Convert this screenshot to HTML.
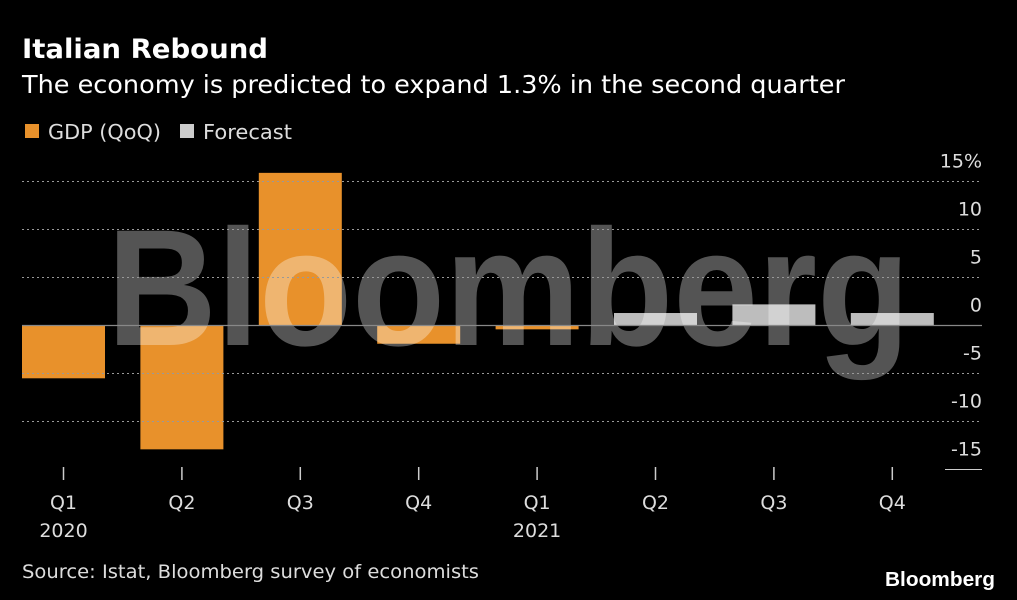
<!DOCTYPE html>
<html><head><meta charset="utf-8"><style>
html,body{margin:0;padding:0;background:#000;}
svg{display:block;font-family:"DejaVu Sans","Liberation Sans",sans-serif;}
</style></head><body>
<svg width="1017" height="600" viewBox="0 0 1017 600">
<rect width="1017" height="600" fill="#000"/>
<text x="22" y="58" fill="#fff" font-weight="bold" font-size="27" textLength="246" lengthAdjust="spacingAndGlyphs">Italian Rebound</text>
<text x="22" y="93" fill="#fff" font-size="25" textLength="823" lengthAdjust="spacingAndGlyphs">The economy is predicted to expand 1.3% in the second quarter</text>
<g>
<rect x="25" y="124" width="14" height="14" fill="#e8912b"/>
<text x="48" y="139" fill="#ddd" font-size="20" textLength="113" lengthAdjust="spacingAndGlyphs">GDP (QoQ)</text>
<rect x="180" y="124" width="14" height="14" fill="#ccc"/>
<text x="203" y="139" fill="#ddd" font-size="20" textLength="89" lengthAdjust="spacingAndGlyphs">Forecast</text>
</g>
<g id="bars"></g>
<text x="107" y="345" fill="rgba(255,255,255,0.33)" font-family="Liberation Sans, sans-serif" font-weight="bold" font-size="166" textLength="803" lengthAdjust="spacingAndGlyphs">Bloomberg</text>
<g id="grid"></g>
<g id="xaxis"></g>
<text x="22" y="578" fill="#ddd" font-size="19" textLength="457" lengthAdjust="spacingAndGlyphs">Source: Istat, Bloomberg survey of economists</text>
<text x="995" y="586" fill="#fff" text-anchor="end" font-family="Liberation Sans, sans-serif" font-weight="bold" font-size="20" textLength="110" lengthAdjust="spacingAndGlyphs">Bloomberg</text>
</svg>
<script>
const categories=["Q1","Q2","Q3","Q4","Q1","Q2","Q3","Q4"];
const yearLabels=["2020","","","","2021","","",""];
const gdpValues=[-5.5,-12.9,15.9,-1.9,-0.4,null,null,null];
const forecastValues=[null,null,null,null,null,1.3,2.2,1.3];
const yTicks=[15,10,5,0,-5,-10,-15];
const yTickLabels=["15%","10","5","0","-5","-10","-15"];
const NS="http://www.w3.org/2000/svg";
const x0=22,step=118.4,bw=83;
function y(v){return 325.5-v*9.6;}
function xc(i){return x0+bw/2+i*step;}
function mk(tag,attrs,parent){const e=document.createElementNS(NS,tag);for(const k in attrs)e.setAttribute(k,attrs[k]);parent.appendChild(e);return e;}
const grid=document.getElementById('grid');
yTicks.forEach((t,i)=>{
  if(t===0){const l=mk('line',{x1:22,x2:982,y1:y(t),y2:y(t),stroke:'#888','stroke-width':1.2},grid);
    }
  else if(t===-15){const l=mk('line',{x1:945,x2:982,y1:y(t),y2:y(t),stroke:'#ccc','stroke-width':1},grid);
    }
  else{const l=mk('line',{x1:22,x2:982,y1:y(t),y2:y(t),stroke:'#999','stroke-width':1,'stroke-dasharray':'2,3'},grid);
    }
  const tx=mk('text',{x:982,y:y(t)-14,fill:'#ddd','font-size':19,'text-anchor':'end'},grid);
  
  tx.textContent=yTickLabels[i];
});
const bars=document.getElementById('bars');
function drawBar(v,i,color,name){
  if(v===null)return;
  const top=Math.min(y(v),y(0)),h=Math.abs(y(v)-y(0));
  const r=mk('rect',{x:x0+i*step,y:top,width:bw,height:Math.max(h,1.5),fill:color},bars);
  
}
gdpValues.forEach((v,i)=>drawBar(v,i,'#e8912b','gdp-bar'));
forecastValues.forEach((v,i)=>drawBar(v,i,'#bdbdbd','forecast-bar'));
const xa=document.getElementById('xaxis');
categories.forEach((c,i)=>{
  const l=mk('line',{x1:xc(i),x2:xc(i),y1:467,y2:480,stroke:'#ccc','stroke-width':1.5},xa);
  
  const t=mk('text',{x:xc(i),y:509,fill:'#ddd','font-size':19,'text-anchor':'middle'},xa);
  
  t.textContent=c;
  if(yearLabels[i]){const t2=mk('text',{x:xc(i),y:537,fill:'#ddd','font-size':19,'text-anchor':'middle'},xa);
    
    t2.textContent=yearLabels[i];}
});
</script>
</body></html>
